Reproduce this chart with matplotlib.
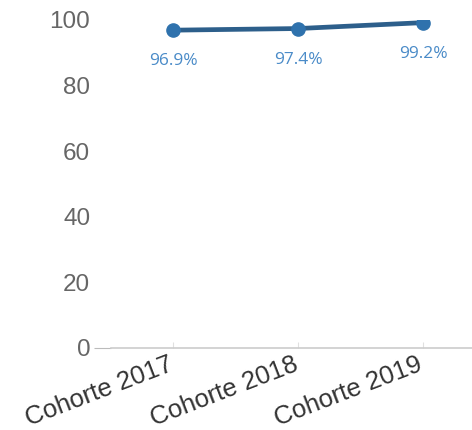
import matplotlib.pyplot as plt
import matplotlib.transforms as mtransforms

cohorts = ['Cohorte 2017', 'Cohorte 2018', 'Cohorte 2019']
rates = [96.9, 97.4, 99.2]
yticks = [0, 20, 40, 60, 80, 100]

plt.rcParams['font.family'] = ['Liberation Sans', 'DejaVu Sans']

fig = plt.figure(figsize=(4.72, 4.30), dpi=100)
ax = fig.add_axes([111 / 472, 1 - 348 / 430, 361 / 472, 328 / 430])

x = list(range(len(cohorts)))
ax.plot(x, rates, color='#2d5f8b', linewidth=3.4, zorder=3,
        marker='o', markersize=9.5, markerfacecolor='#2f72ad', markeredgecolor='#2f72ad')

for xi, v in zip(x, rates):
    ax.annotate(f'{v}%', (xi, v), xytext=(0, -22.5), textcoords='offset points',
                ha='center', va='center', fontsize=12.5, color='#4a8bc8',
                family=['Open Sans', 'DejaVu Sans'])

ax.set_xlim(-0.5, 2.39)
ax.set_ylim(0, 100)
ax.set_yticks(yticks)
ax.set_xticks(x)
ax.set_xticklabels(cohorts, rotation=21, ha='right', rotation_mode='anchor',
                   fontsize=18.5, color='#333333')
ax.tick_params(axis='x', length=4, direction='in', color='#e0e0e0', pad=3)
ax.tick_params(axis='y', labelsize=17.5, labelcolor='#666666', length=12,
               color='#bbbbbb', pad=3)
for t in ax.yaxis.get_major_ticks()[1:]:
    t.tick1line.set_visible(False)

# shift the category labels a little to the left, as in the original
shift = mtransforms.ScaledTranslation(-6 / 100, 0, fig.dpi_scale_trans)
for lbl in ax.get_xticklabels():
    lbl.set_transform(lbl.get_transform() + shift)

for s in ['top', 'right', 'left']:
    ax.spines[s].set_visible(False)
ax.spines['bottom'].set_color('#cccccc')
ax.spines['bottom'].set_linewidth(1.2)

fig.savefig('out.png', dpi=100)
